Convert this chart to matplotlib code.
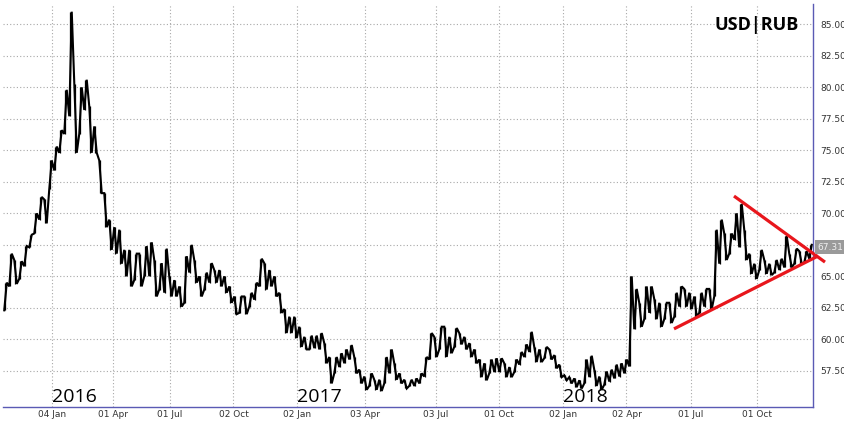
import matplotlib
matplotlib.use('Agg')
import matplotlib.pyplot as plt
from matplotlib.transforms import blended_transform_factory

# Weekly low / high of USD|RUB (one entry per trading week)
week_low = [
    62.3, 64.2, 64.4, 64.8, 65.8, 67.3, 68.4, 69.5, 69.2, 71.9,
    73.4, 74.8, 76.3, 77.7, 74.8, 76.3, 78.2, 74.8, 74.8, 71.6,
    68.9, 67.1, 66.8, 66.0, 65.0, 64.2, 64.7, 64.2, 65.0, 65.0,
    63.4, 63.95, 63.7, 63.4, 63.4, 62.6, 62.9, 65.3, 64.5, 63.4,
    63.95, 64.5, 64.5, 64.2, 63.7, 62.9, 62.0, 62.1, 62.0, 62.6,
    63.15, 64.2, 63.95, 64.2, 63.4, 62.1, 60.5, 60.5, 60.1, 59.4,
    59.2, 59.2, 59.3, 59.2, 58.1, 56.5, 57.3, 57.8, 58.1, 58.4,
    57.3, 56.5, 56.0, 56.3, 56.0, 55.9, 56.5, 57.3, 56.8, 56.5,
    56.1, 56.3, 56.3, 56.5, 57.05, 58.4, 58.6, 59.2, 58.6, 58.9,
    59.4, 59.6, 59.2, 58.6, 58.1, 57.0, 56.75, 57.3, 57.4, 57.4,
    57.0, 57.0, 57.4, 58.0, 58.6, 59.0, 58.2, 58.2, 58.5, 58.4,
    57.7, 57.0, 56.75, 56.5, 56.2, 56.1, 56.5, 57.0, 56.3, 56.0,
    56.4, 56.65, 56.9, 57.05, 57.3, 57.85, 60.8, 61.0, 61.6, 62.1,
    61.6, 61.0, 61.6, 61.3, 61.8, 62.6, 62.6, 62.4, 61.8, 62.1,
    62.6, 62.4, 63.4, 66.0, 66.3, 66.8, 67.9, 67.3, 66.3, 65.2,
    64.8, 65.5, 65.2, 65.1, 65.3, 65.5, 65.7, 65.7, 66.0, 66.0,
    66.1, 66.4,
]
week_high = [
    64.5, 66.8, 66.3, 66.2, 67.4, 68.3, 70.0, 71.3, 71.1, 74.2,
    75.3, 76.6, 79.8, 86.0, 80.3, 80.0, 80.6, 78.5, 76.9, 74.2,
    71.6, 69.5, 68.9, 68.7, 67.1, 67.1, 66.8, 66.8, 67.4, 67.7,
    66.3, 66.05, 67.2, 65.0, 64.7, 64.2, 66.6, 67.5, 66.3, 65.0,
    65.3, 66.05, 65.5, 65.5, 65.0, 64.2, 63.4, 63.4, 63.4, 63.7,
    64.5, 66.4, 66.05, 65.5, 65.0, 63.7, 62.4, 61.8, 61.8, 61.0,
    60.2, 60.3, 60.3, 60.5, 59.7, 58.6, 58.6, 58.9, 59.2, 59.55,
    58.6, 57.6, 57.05, 57.3, 56.8, 56.8, 58.6, 59.2, 58.1, 57.3,
    56.8, 56.8, 56.9, 57.3, 58.6, 60.5, 60.2, 61.0, 61.0, 60.2,
    60.9, 60.5, 60.2, 59.7, 59.2, 58.4, 58.1, 58.4, 58.5, 58.5,
    58.1, 57.8, 58.4, 59.0, 59.6, 60.6, 59.4, 59.2, 59.4, 59.2,
    58.75, 58.0, 57.15, 57.0, 56.9, 56.75, 58.4, 58.7, 57.6, 57.05,
    57.45, 57.6, 58.0, 58.1, 58.4, 65.0, 64.0, 62.9, 64.2, 64.2,
    63.2, 62.9, 62.9, 62.9, 63.7, 64.2, 64.0, 63.7, 63.4, 63.7,
    64.0, 64.0, 68.7, 69.5, 68.4, 68.4, 70.0, 70.75, 68.7, 66.8,
    66.0, 67.1, 66.3, 66.0, 66.3, 66.4, 68.2, 66.8, 67.2, 67.0,
    67.0, 67.5,
]

x_tick_labels = ['04 Jan', '01 Apr', '01 Jul', '02 Oct', '02 Jan', '03 Apr',
                 '03 Jul', '01 Oct', '02 Jan', '02 Apr', '01 Jul', '01 Oct']
x_tick_weeks = [9.8, 22.0, 33.4, 46.1, 58.9, 72.4, 86.6, 99.2, 112.0, 124.7, 137.6, 150.9]
year_labels = ['2016', '2017', '2018']
year_weeks = [9.8, 58.9, 112.0]
y_ticks = [57.5, 60.0, 62.5, 65.0, 67.5, 70.0, 72.5, 75.0, 77.5, 80.0, 82.5, 85.0]

upper_trend_weeks = [146.2, 164.4]
upper_trend_vals = [71.37, 66.13]
lower_trend_weeks = [134.2, 163.0]
lower_trend_vals = [60.83, 66.61]
last_price = 67.31
title = 'USD|RUB'

W, H = 845, 421
fig = plt.figure(figsize=(W / 100, H / 100), dpi=100)
ax = fig.add_axes([3 / W, 1 - 407 / H, (813 - 3) / W, (407 - 4) / H])
ax.set_xlim(0, len(week_low))
ax.set_ylim(54.63, 86.61)

# price path: zigzag through each week's range + thin vertical range bars
xs, ys = [], []
prev_mid = None
for j, (lo, hi) in enumerate(zip(week_low, week_high)):
    mid = (lo + hi) / 2
    rising = prev_mid is None or mid >= prev_mid
    seq = (lo, hi) if rising else (hi, lo)
    xs += [j + 0.25, j + 0.75]
    ys += list(seq)
    prev_mid = mid
ax.vlines([j + 0.5 for j in range(len(week_low))], week_low, week_high,
          color='black', linewidth=0.9, zorder=3)
ax.plot(xs, ys, color='black', linewidth=1.5, zorder=3, solid_joinstyle='miter')

# trend lines
ax.plot(upper_trend_weeks, upper_trend_vals, color='#e8161c', linewidth=2.3,
        solid_capstyle='butt', clip_on=False, zorder=4)
ax.plot(lower_trend_weeks, lower_trend_vals, color='#e8161c', linewidth=2.3,
        solid_capstyle='butt', clip_on=False, zorder=4)

# axes styling
for s in ['left', 'top']:
    ax.spines[s].set_visible(False)
for s in ['right', 'bottom']:
    ax.spines[s].set_color('#5a5ab4')
    ax.spines[s].set_linewidth(1.0)

ax.yaxis.tick_right()
ax.set_yticks(y_ticks)
# the 67.50 label is covered by the last-price marker in the reference
ax.set_yticklabels(['' if abs(v - last_price) < 1.0 else f'{v:.2f}' for v in y_ticks])
ax.set_xticks(x_tick_weeks)
ax.set_xticklabels(x_tick_labels)
ax.tick_params(axis='y', length=0, pad=5, labelsize=6.5, labelcolor='#333333')
ax.tick_params(axis='x', length=0, pad=2, labelsize=6.5, labelcolor='#333333')
for lab in ax.get_xticklabels() + ax.get_yticklabels():
    lab.set_fontfamily('DejaVu Sans')

ax.grid(True, color='#a8a8a8', linestyle=(0, (1, 2)), linewidth=0.8, zorder=0)
ax.set_axisbelow(True)

# year labels
for lab, wk in zip(year_labels, year_weeks):
    ax.text(wk, 55.0, lab, fontsize=14, family='Open Sans', color='black',
            ha='left', va='baseline', zorder=5)

# title
ax.text(0.982, 0.947, title, transform=ax.transAxes, fontsize=13, fontweight='bold',
        family='Open Sans', ha='right', va='center', color='black')

# last price label
tr = blended_transform_factory(ax.transAxes, ax.transData)
ax.text(1.006, last_price, f'{last_price:.2f}', transform=tr, fontsize=6.5,
        color='#f0f0f0', ha='left', va='center', family='DejaVu Sans',
        bbox=dict(boxstyle='square,pad=0.3', facecolor='#9a9a9a', edgecolor='none'),
        clip_on=False, zorder=6)

fig.savefig('out.png', dpi=100, facecolor='white')
